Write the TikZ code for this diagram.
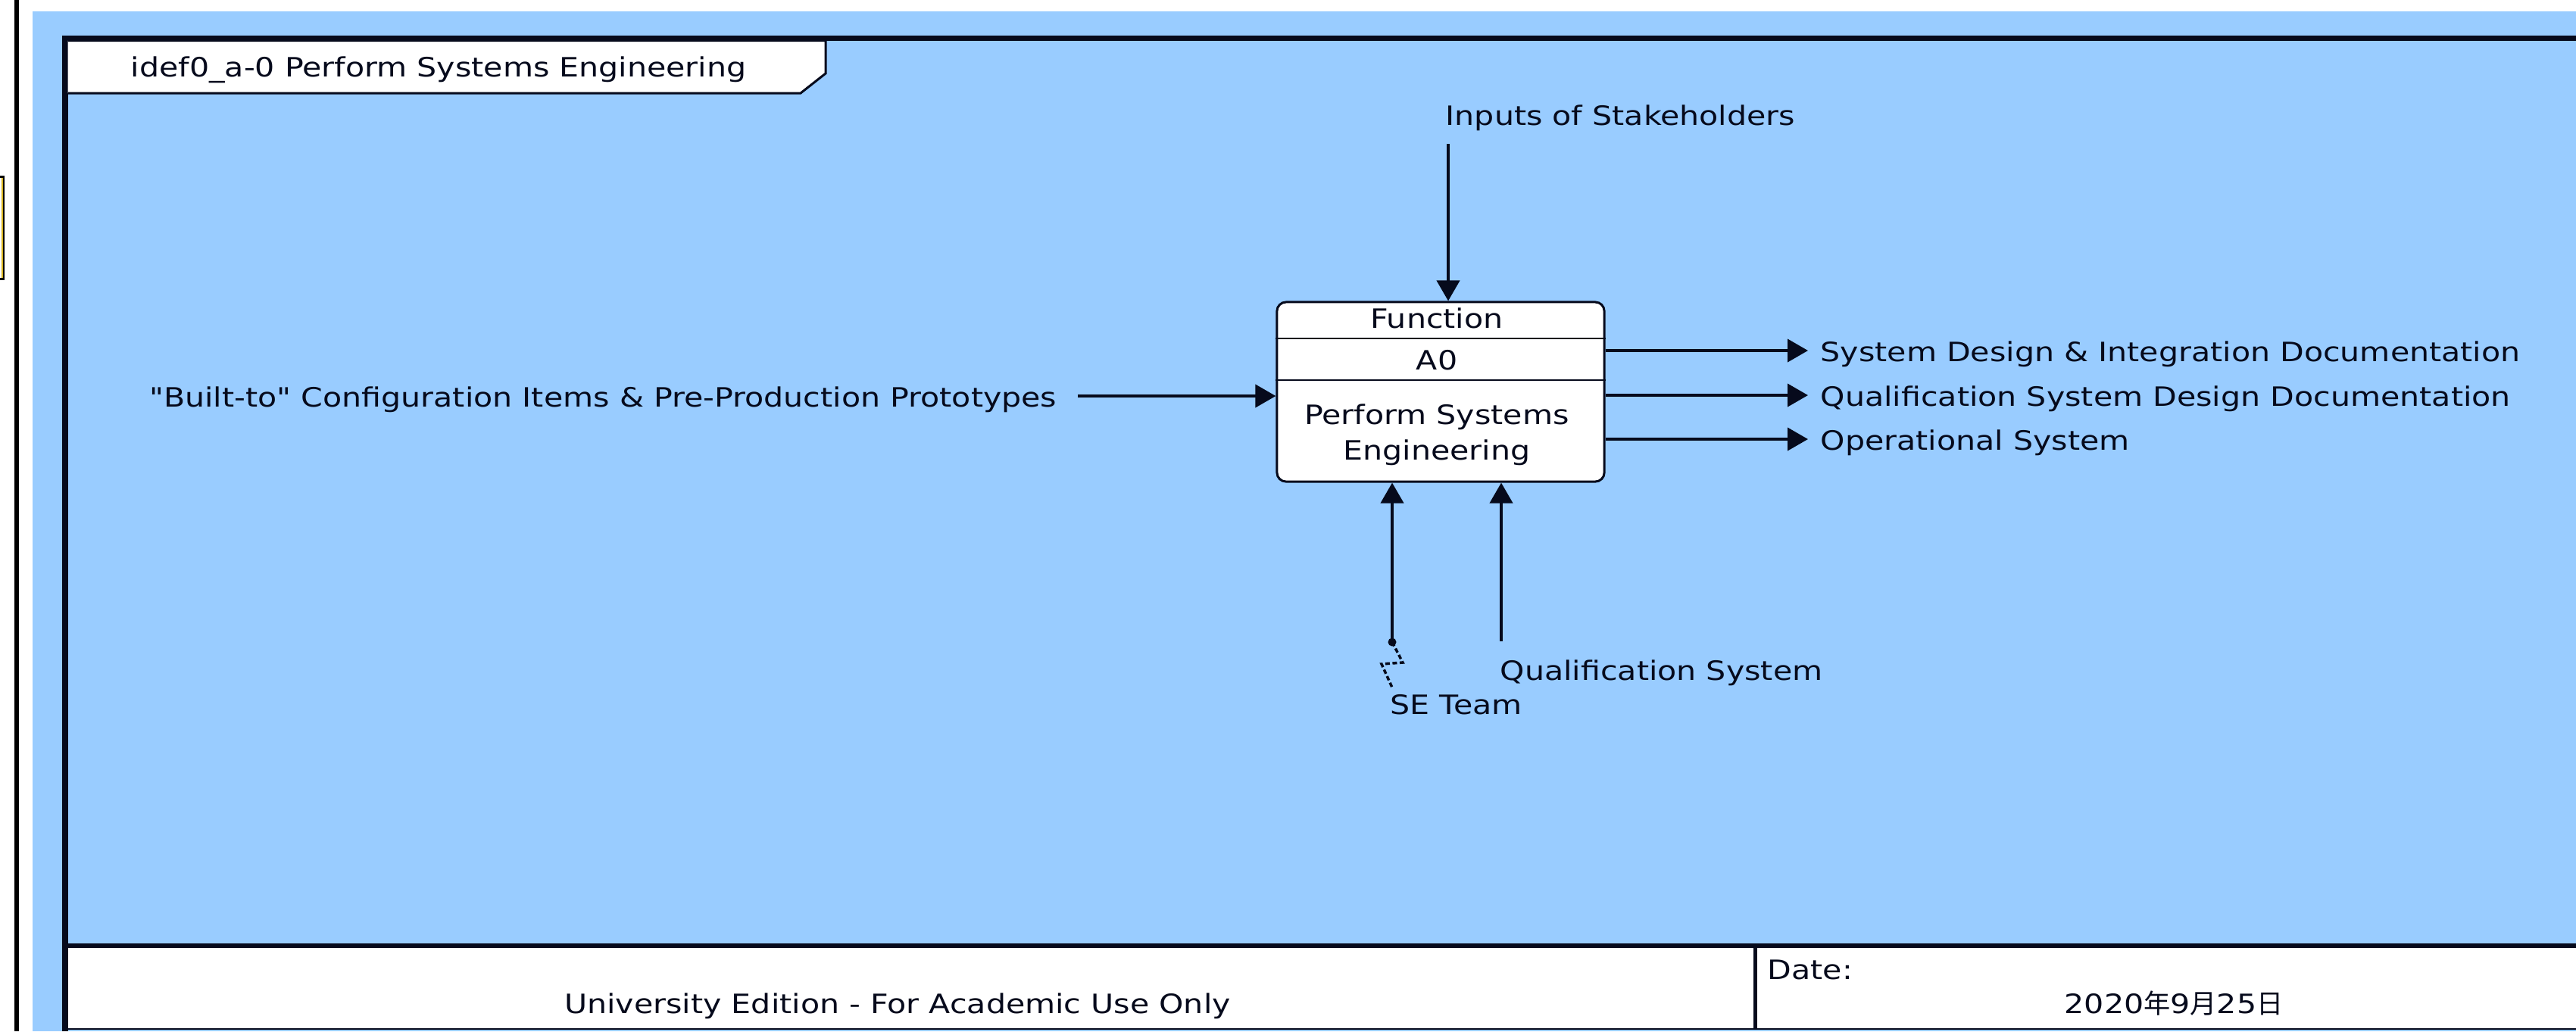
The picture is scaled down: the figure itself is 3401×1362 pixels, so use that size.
\documentclass[tikz,border=0pt]{standalone}
\usepackage{fontspec}
\setmainfont{DejaVu Sans}[FakeStretch=1.17, Ligatures=TeXOff]
\newfontfamily\cjk{Noto Sans CJK SC}
\usetikzlibrary{arrows.meta}
\definecolor{bgblue}{HTML}{99CCFF}
\definecolor{ink}{HTML}{060A1C}
\definecolor{tabyellow}{HTML}{D8B420}
\begin{document}
\begin{tikzpicture}[x=0.01cm,y=-0.01cm,
  font=\fontsize{10}{13.3}\selectfont,
  lbl/.style={inner sep=0pt, text=ink},
  arr/.style={line width=0.04cm, draw=ink, -{Triangle[length=0.27cm,width=0.30cm]}},
  thinline/.style={draw=ink, line width=0.025cm}]
\useasboundingbox (0,0) rectangle (3401,1362);
% backgrounds
\fill[white] (0,0) rectangle (3401,1362);
\fill[bgblue] (43,15) rectangle (3401,1362);
\draw[black, line width=0.06cm] (22,0) -- (22,1362);
% small box at left edge
\fill[black] (0,232) rectangle (6,370);
\fill[tabyellow] (0,235) rectangle (4,367);
\fill[white] (0,235) rectangle (2,367);
% frame
\draw[ink, line width=0.07cm] (86,1362) -- (86,50) -- (3401,50);
% title tab
\filldraw[fill=white, thinline, line width=0.03cm] (89.5,53.5) -- (1090,53.5) -- (1090,97) -- (1057,123) -- (89.5,123);
\node[lbl, anchor=base west] (title) at (172,101) {idef0\_a-0 Perform Systems Engineering};
% footer
\fill[white] (90,1252) rectangle (3401,1358);
\draw[ink, line width=0.06cm] (86,1249) -- (3401,1249);
\draw[thinline] (86,1359) -- (3401,1359);
\draw[ink, line width=0.05cm] (2317,1252) -- (2317,1358);
\node[lbl, anchor=base] (univ) at (1185,1338) {University Edition - For Academic Use Only};
\node[lbl, anchor=base west] (datek) at (2333,1293) {Date:};
\node[lbl, anchor=base] (datev) at (2870,1338) {2020{\cjk 年}9{\cjk 月}25{\cjk 日}};
% function box
\node[draw=ink, fill=white, line width=0.03cm, rounded corners=0.12cm,
      minimum width=4.32cm, minimum height=2.37cm, inner sep=0pt] (fn) at (1902,517.5) {};
\coordinate (d1) at (0,447);
\coordinate (d2) at (0,502);
\draw[thinline] (fn.west |- d1) -- (fn.east |- d1);
\draw[thinline] (fn.west |- d2) -- (fn.east |- d2);
\node[lbl, anchor=base] (fnhead) at (1897,433) {Function};
\node[lbl, anchor=base] (fnnum) at (1897,488) {A0};
\node[lbl, anchor=base] (fnname1) at (1897,560) {Perform Systems};
\node[lbl, anchor=base] (fnname2) at (1897,607) {Engineering};
% control
\coordinate (ctl) at (1912,190);
\draw[arr] (ctl) -- (ctl |- fn.north);
\node[lbl, anchor=base west] (ctlL) at (1908,165) {Inputs of Stakeholders};
% input
\coordinate (in1) at (1423,523);
\draw[arr] (in1) -- (in1 -| fn.west);
\node[lbl, anchor=base east] (in1L) at (1396,537) {"Built-to" Configuration Items \& Pre-Production Prototypes};
% outputs
\coordinate (o1) at (2387,463);
\coordinate (o2) at (2387,522);
\coordinate (o3) at (2387,580);
\draw[arr] (o1 -| fn.east) -- (o1);
\draw[arr] (o2 -| fn.east) -- (o2);
\draw[arr] (o3 -| fn.east) -- (o3);
\node[lbl, anchor=base west] (o1L) at (2403,477) {System Design \& Integration Documentation};
\node[lbl, anchor=base west] (o2L) at (2403,536) {Qualification System Design Documentation};
\node[lbl, anchor=base west] (o3L) at (2403,594) {Operational System};
% mechanisms
\coordinate (m1) at (1838,848);
\coordinate (m2) at (1982,847);
\draw[arr] (m1) -- (m1 |- fn.south);
\draw[arr] (m2) -- (m2 |- fn.south);
\fill[ink] (m1) circle (0.055cm);
\coordinate (sq1) at (1852,875);
\coordinate (sq2) at (1824,877);
\coordinate (sq3) at (1838,908);
\draw[ink, line width=0.035cm, dash pattern=on 0.06cm off 0.035cm] (m1) -- (sq1) -- (sq2) -- (sq3);
\node[lbl, anchor=base west] (m1L) at (1835,943) {SE Team};
\node[lbl, anchor=base west] (m2L) at (1980,898) {Qualification System};
\end{tikzpicture}
\end{document}
